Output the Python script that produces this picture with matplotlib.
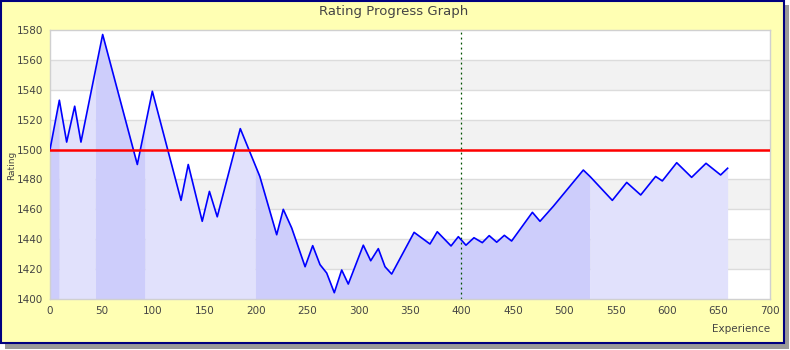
import matplotlib
matplotlib.use("Agg")
import matplotlib.pyplot as plt
import numpy as np
from matplotlib.patches import Rectangle

# rating progress
experience = [0, 9.1, 16.2, 24, 30.1, 51.2, 84.9, 99.5, 127.4, 134.4, 148, 155, 162.6,
              185, 204, 220.4, 226.8, 235, 248, 255.4, 262.5, 269, 276.4, 283.6, 290,
              304.6, 311.8, 319.2, 325.7, 332.2, 354, 369.4, 376.5, 389.9, 397, 404.4,
              412.2, 420.3, 427, 434.3, 441.7, 448.8, 469, 476.4, 489.3, 518.5, 525,
              546.7, 560.7, 574.3, 588.8, 595.3, 609.3, 623.8, 637.8, 652, 658.8]
rating = [1500, 1533, 1505, 1529, 1505, 1577, 1490, 1539, 1466, 1490, 1452, 1472, 1455,
          1514, 1482, 1443, 1460, 1447.5, 1421.6, 1435.7, 1423, 1417.4, 1404.2, 1419.4, 1410,
          1436, 1425.6, 1433.7, 1421.6, 1416.7, 1444.6, 1436.8, 1445, 1435.5, 1441.7, 1436,
          1441, 1437.7, 1442.4, 1438, 1442.6, 1438.8, 1458, 1452, 1462, 1486.3, 1482,
          1466, 1478, 1469.6, 1482, 1479, 1491.2, 1481.4, 1490.8, 1483, 1487.5]

# shaded level bands along the x axis
zone_edges = [0, 9, 44, 92.5, 199.5, 525, 658.8]
zone_colors = ["#cdcdfb", "#e1e1fc"]

base_rating = 1500
marker_exp = 400
xticks = list(range(0, 701, 50))
yticks = list(range(1400, 1581, 20))

fig = plt.figure(figsize=(7.9, 3.5), dpi=100)
fig.patch.set_facecolor("white")

# shadow and yellow frame
fig.patches.append(Rectangle((5 / 790, 1 / 350), 784 / 790, 344 / 350, transform=fig.transFigure,
                             facecolor="#9a9a9a", edgecolor="none", zorder=-3))
fig.patches.append(Rectangle((1 / 790, 7 / 350), 783 / 790, 342 / 350, transform=fig.transFigure,
                             facecolor="#ffffb3", edgecolor="#000080", linewidth=1.5, zorder=-2))

ax = fig.add_axes([50 / 790, 1 - 299 / 350, 720 / 790, 269 / 350])
ax.set_facecolor("white")

# alternating horizontal bands
for i in range(len(yticks) - 1):
    if i % 2 == 0:
        continue
    ax.axhspan(yticks[i], yticks[i + 1], color="#f2f2f2", zorder=0, lw=0)
for t in yticks[1:-1]:
    ax.axhline(t, color="#dcdcdc", lw=1, zorder=0.5)

x = np.array(experience)
y = np.array(rating)
for i in range(len(zone_edges) - 1):
    a, b = zone_edges[i], zone_edges[i + 1]
    xs = np.concatenate([[a], x[(x > a) & (x < b)], [b]])
    ys = np.interp(xs, x, y)
    ax.fill_between(xs, 1400, ys, color=zone_colors[i % 2], lw=0, zorder=1)

ax.plot(x, y, color="#0000ff", lw=1.2, zorder=3)
ax.axhline(base_rating, color="#ff0000", lw=1.8, zorder=4)
ax.axvline(marker_exp, color="#005000", lw=0.9, ls=(0, (1.5, 2.5)), zorder=2)

ax.set_xlim(0, 700)
ax.set_ylim(1400, 1580)
ax.set_xticks(xticks)
ax.set_yticks(yticks)
ax.tick_params(length=0, labelsize=7.5, colors="#444444", pad=5)
for s in ax.spines.values():
    s.set_color("#d0d0d0")
    s.set_linewidth(1)

fig.text(394 / 790, 1 - 11 / 350, "Rating Progress Graph", ha="center", va="center",
         fontsize=9.5, color="#444444")
fig.text(12 / 790, 1 - 165 / 350, "Rating", rotation=90, ha="center", va="center",
         fontsize=6.5, color="#444444")
fig.text(770 / 790, 1 - 329 / 350, "Experience", ha="right", va="center",
         fontsize=7.5, color="#444444")

fig.savefig("out.png", dpi=100)
